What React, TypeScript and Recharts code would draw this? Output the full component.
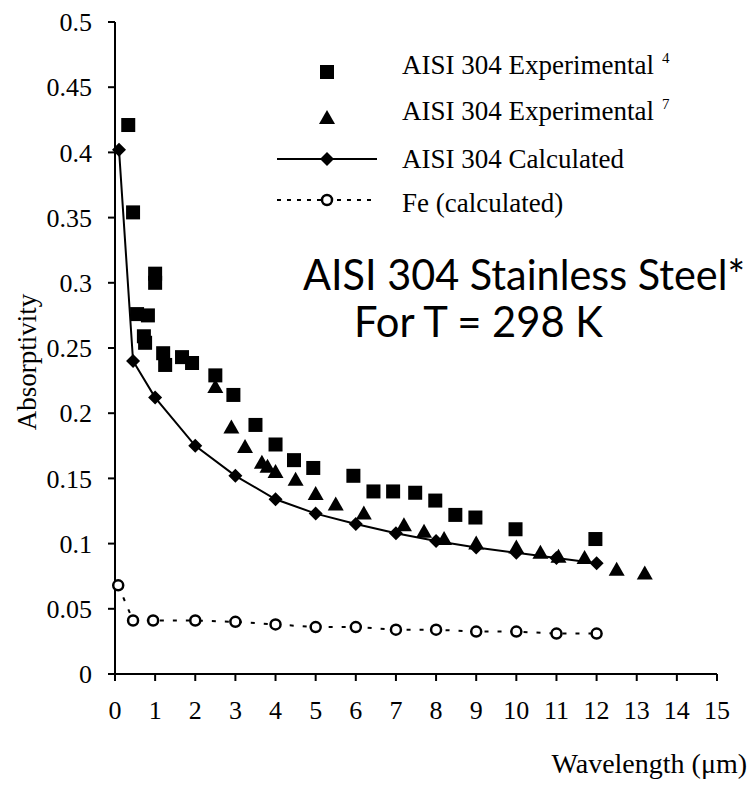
import React from "react";
import { ScatterChart, Scatter, XAxis, YAxis, Legend } from "recharts";

// AISI 304 Experimental (ref 4) - squares
const exp4Wavelength = [0.33, 0.45, 1.0, 1.0, 0.55, 0.82, 0.72, 0.75, 1.2, 1.25, 1.67, 1.92, 2.5, 2.95, 3.5, 4.0, 4.46, 4.94, 5.94, 6.44, 6.93, 7.48, 7.98, 8.48, 8.98, 9.98, 11.97];
const exp4Absorptivity = [0.421, 0.354, 0.307, 0.3, 0.276, 0.275, 0.259, 0.254, 0.246, 0.237, 0.243, 0.2385, 0.229, 0.214, 0.191, 0.176, 0.164, 0.158, 0.152, 0.14, 0.14, 0.139, 0.133, 0.122, 0.12, 0.111, 0.1035];

// AISI 304 Experimental (ref 7) - triangles
const exp7Wavelength = [2.5, 2.9, 3.24, 3.66, 3.8, 4.0, 4.5, 5.0, 5.5, 6.2, 7.2, 7.7, 8.2, 9.0, 10.0, 10.6, 11.05, 11.7, 12.5, 13.2];
const exp7Absorptivity = [0.22, 0.189, 0.174, 0.162, 0.159, 0.155, 0.149, 0.138, 0.13, 0.123, 0.114, 0.109, 0.1035, 0.1, 0.097, 0.093, 0.09, 0.089, 0.08, 0.077];

// AISI 304 Calculated - diamonds + solid line
const calcWavelength = [0.1, 0.45, 1, 2, 3, 4, 5, 6, 7, 8, 9, 10, 11, 12];
const calcAbsorptivity = [0.402, 0.24, 0.212, 0.175, 0.152, 0.134, 0.123, 0.115, 0.108, 0.102, 0.097, 0.093, 0.089, 0.085];

// Fe (calculated) - open circles + dashed line
const feWavelength = [0.08, 0.45, 0.95, 2, 3, 4, 5, 6, 7, 8, 9, 10, 11, 12];
const feAbsorptivity = [0.068, 0.041, 0.041, 0.041, 0.04, 0.038, 0.036, 0.036, 0.034, 0.034, 0.0325, 0.0325, 0.031, 0.031];

const xTicks = [0, 1, 2, 3, 4, 5, 6, 7, 8, 9, 10, 11, 12, 13, 14, 15];
const yTicks = [0, 0.05, 0.1, 0.15, 0.2, 0.25, 0.3, 0.35, 0.4, 0.45, 0.5];

const pairs = (xs: number[], ys: number[]) => xs.map((x, i) => ({ x, y: ys[i] }));

const exp4Data = pairs(exp4Wavelength, exp4Absorptivity);
const exp7Data = pairs(exp7Wavelength, exp7Absorptivity);
const calcData = pairs(calcWavelength, calcAbsorptivity);
const feData = pairs(feWavelength, feAbsorptivity);

const serif = "'Liberation Serif', 'Times New Roman', serif";

const Square = ({ cx, cy }: any) => <rect x={cx - 7} y={cy - 7} width={14} height={14} fill="#000" />;
const Triangle = ({ cx, cy }: any) => (
  <polygon points={`${cx},${cy - 8} ${cx - 8},${cy + 6} ${cx + 8},${cy + 6}`} fill="#000" />
);
const Diamond = ({ cx, cy }: any) => (
  <polygon points={`${cx},${cy - 7} ${cx + 7},${cy} ${cx},${cy + 7} ${cx - 7},${cy}`} fill="#000" />
);
const OpenCircle = ({ cx, cy }: any) => (
  <circle cx={cx} cy={cy} r={5} fill="#fff" stroke="#000" strokeWidth={2.5} />
);

const renderLegend = () => (
  <svg width={480} height={190} style={{ display: "block" }}>
    <g fontFamily={serif} fontSize={27} fill="#000">
      <Square cx={57} cy={32} />
      <text x={132} y={34}>
        AISI 304 Experimental
        <tspan dx={8} dy={-11} fontSize={15}>4</tspan>
      </text>
      <Triangle cx={57} cy={78} />
      <text x={132} y={80}>
        AISI 304 Experimental
        <tspan dx={8} dy={-11} fontSize={15}>7</tspan>
      </text>
      <line x1={7} y1={119} x2={107} y2={119} stroke="#000" strokeWidth={2} />
      <Diamond cx={57} cy={119} />
      <text x={132} y={128}>AISI 304 Calculated</text>
      <line x1={7} y1={160} x2={102} y2={160} stroke="#000" strokeWidth={2} strokeDasharray="4 6" />
      <OpenCircle cx={57} cy={160} />
      <text x={132} y={172}>Fe (calculated)</text>
    </g>
  </svg>
);

const XTitle = ({ viewBox }: any) => (
  <text
    x={viewBox.x + viewBox.width + 30}
    y={viewBox.y + 99}
    textAnchor="end"
    fontFamily={serif}
    fontSize={28}
    fill="#000"
  >
    Wavelength (μm)
  </text>
);

const YTitle = ({ viewBox }: any) => {
  const cx = 27;
  const cy = viewBox.y + 340;
  return (
    <text
      x={cx}
      y={cy}
      transform={`rotate(-90, ${cx}, ${cy})`}
      textAnchor="middle"
      dominantBaseline="central"
      fontFamily={serif}
      fontSize={27}
      fill="#000"
    >
      Absorptivity
    </text>
  );
};

const fmtY = (v: number) => String(Number(v.toFixed(2)));

export default function App() {
  return (
    <div style={{ position: "absolute", left: 0, top: 0, width: 751, height: 785, background: "#fff" }}>
      <ScatterChart width={751} height={785} margin={{ top: 22, right: 34, bottom: 0, left: 0 }}>
        <XAxis
          type="number"
          dataKey="x"
          domain={[0, 15]}
          ticks={xTicks}
          interval={0}
          height={111}
          tickSize={7}
          tickMargin={20}
          axisLine={{ stroke: "#000", strokeWidth: 2 }}
          tickLine={{ stroke: "#000", strokeWidth: 2 }}
          tick={{ fill: "#000", fontSize: 26, fontFamily: serif }}
          label={{ content: XTitle }}
        />
        <YAxis
          type="number"
          dataKey="y"
          domain={[0, 0.5]}
          ticks={yTicks}
          interval={0}
          width={115}
          tickSize={7}
          tickMargin={16}
          tickFormatter={fmtY}
          axisLine={{ stroke: "#000", strokeWidth: 2 }}
          tickLine={{ stroke: "#000", strokeWidth: 2 }}
          tick={{ fill: "#000", fontSize: 26, fontFamily: serif }}
          label={{ content: YTitle }}
        />
        <Legend
          layout="horizontal"
          verticalAlign="middle"
          align="center"
          content={renderLegend}
          wrapperStyle={{ left: 270, top: 40, width: 480, height: 190 }}
        />
        <Scatter
          name="Fe (calculated)"
          data={feData}
          fill="#000"
          line={{ stroke: "#000", strokeWidth: 2, strokeDasharray: "4 9" }}
          lineType="joint"
          shape={(p: any) => <OpenCircle {...p} />}
          isAnimationActive={false}
        />
        <Scatter
          name="AISI 304 Calculated"
          data={calcData}
          fill="#000"
          line={{ stroke: "#000", strokeWidth: 2 }}
          lineType="joint"
          shape={(p: any) => <Diamond {...p} />}
          isAnimationActive={false}
        />
        <Scatter
          name="AISI 304 Experimental 7"
          data={exp7Data}
          fill="#000"
          shape={(p: any) => <Triangle {...p} />}
          isAnimationActive={false}
        />
        <Scatter
          name="AISI 304 Experimental 4"
          data={exp4Data}
          fill="#000"
          shape={(p: any) => <Square {...p} />}
          isAnimationActive={false}
        />
      </ScatterChart>
      <svg width={751} height={785} style={{ position: "absolute", left: 0, top: 0, pointerEvents: "none" }}>
        <g fontFamily="Lato, 'Open Sans', sans-serif" fontSize={42} fill="#000">
          <text x={303} y={290} textLength={442} lengthAdjust="spacingAndGlyphs">
            AISI 304 Stainless Steel*
          </text>
          <text x={354} y={337} textLength={249} lengthAdjust="spacingAndGlyphs">
            For T = 298 K
          </text>
        </g>
      </svg>
    </div>
  );
}
